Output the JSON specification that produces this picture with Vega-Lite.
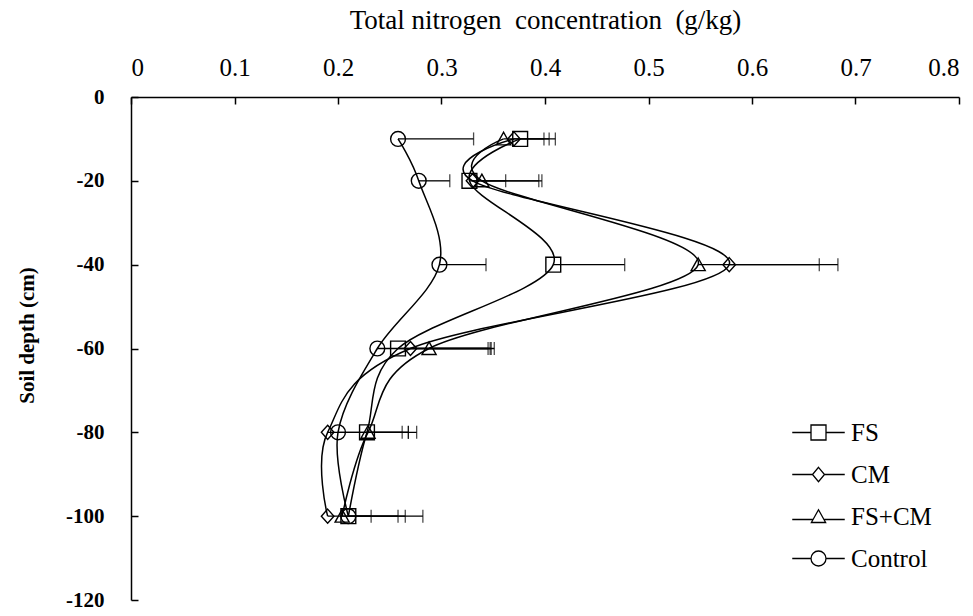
{
  "$schema": "https://vega.github.io/schema/vega-lite/v6.json",
  "width": 828,
  "height": 503,
  "autosize": "none",
  "padding": {"left": 131, "top": 97, "right": 14, "bottom": 16},
  "background": "white",
  "config": {
    "view": {"stroke": null},
    "font": "Liberation Serif",
    "axis": {
      "grid": false,
      "domainColor": "black",
      "domainWidth": 1.5,
      "tickColor": "black",
      "tickWidth": 1.5,
      "tickSize": -7,
      "labelFont": "Liberation Serif",
      "labelColor": "black",
      "titleFont": "Liberation Serif",
      "titleColor": "black"
    }
  },
  "data": {
    "values": [
      {"series": "FS", "depth": -10, "tn": 0.376, "err": 0.41},
      {"series": "FS", "depth": -20, "tn": 0.327, "err": 0.362},
      {"series": "FS", "depth": -40, "tn": 0.408, "err": 0.477},
      {"series": "FS", "depth": -60, "tn": 0.258, "err": 0.348},
      {"series": "FS", "depth": -80, "tn": 0.228, "err": 0.276},
      {"series": "FS", "depth": -100, "tn": 0.21, "err": 0.265},
      {"series": "CM", "depth": -10, "tn": 0.37, "err": 0.404},
      {"series": "CM", "depth": -20, "tn": 0.33, "err": 0.397},
      {"series": "CM", "depth": -40, "tn": 0.578, "err": 0.683},
      {"series": "CM", "depth": -60, "tn": 0.27, "err": 0.351},
      {"series": "CM", "depth": -80, "tn": 0.19, "err": 0.262},
      {"series": "CM", "depth": -100, "tn": 0.19, "err": 0.232},
      {"series": "FS+CM", "depth": -10, "tn": 0.36, "err": 0.399},
      {"series": "FS+CM", "depth": -20, "tn": 0.339, "err": 0.394},
      {"series": "FS+CM", "depth": -40, "tn": 0.548, "err": 0.665},
      {"series": "FS+CM", "depth": -60, "tn": 0.288, "err": 0.347},
      {"series": "FS+CM", "depth": -80, "tn": 0.229, "err": 0.268},
      {"series": "FS+CM", "depth": -100, "tn": 0.204, "err": 0.258},
      {"series": "Control", "depth": -10, "tn": 0.258, "err": 0.331},
      {"series": "Control", "depth": -20, "tn": 0.278, "err": 0.308},
      {"series": "Control", "depth": -40, "tn": 0.298, "err": 0.343},
      {"series": "Control", "depth": -60, "tn": 0.238, "err": 0.345},
      {"series": "Control", "depth": -80, "tn": 0.2, "err": 0.268},
      {"series": "Control", "depth": -100, "tn": 0.21, "err": 0.282}
    ]
  },
  "encoding": {
    "y": {
      "field": "depth",
      "type": "quantitative",
      "scale": {"domain": [-120, 0], "nice": false, "zero": false},
      "axis": {
        "values": [0, -20, -40, -60, -80, -100, -120],
        "labelExpr": "datum.value + ''",
        "title": "Soil depth (cm)",
        "titleFontSize": 21,
        "titleFontWeight": "bold",
        "titlePadding": 28,
        "titleY": 238,
        "labelFontSize": 21,
        "labelFontWeight": "bold",
        "labelPadding": 34
      }
    }
  },
  "resolve": {"scale": {"shape": "independent"}},
  "layer": [
    {
      "mark": {"type": "line", "interpolate": "cardinal", "color": "black", "strokeWidth": 1.5},
      "encoding": {
        "x": {
          "field": "tn",
          "type": "quantitative",
          "scale": {"domain": [0, 0.8], "nice": false},
          "axis": {
            "orient": "top",
            "values": [0, 0.1, 0.2, 0.3, 0.4, 0.5, 0.6, 0.7, 0.8],
            "format": "~g",
            "title": "Total nitrogen\u00a0 concentration\u00a0 (g/kg)",
            "titleFontSize": 27,
            "titleFontWeight": "normal",
            "titlePadding": 21,
            "labelFontSize": 25,
            "labelPadding": 24
          }
        },
        "detail": {"field": "series"},
        "order": {"field": "depth", "sort": "descending"}
      }
    },
    {
      "mark": {"type": "rule", "color": "black", "strokeWidth": 1.3},
      "encoding": {
        "x": {"field": "tn", "type": "quantitative"},
        "x2": {"field": "err"}
      }
    },
    {
      "mark": {"type": "tick", "orient": "vertical", "color": "black", "thickness": 1.3, "size": 13},
      "encoding": {
        "x": {"field": "err", "type": "quantitative"}
      }
    },
    {
      "mark": {"type": "point", "filled": false, "color": "black", "strokeWidth": 1.4, "opacity": 1},
      "encoding": {
        "x": {"field": "tn", "type": "quantitative"},
        "size": {"value": 220},
        "shape": {
          "field": "series",
          "type": "nominal",
          "scale": {
            "domain": ["FS", "CM", "FS+CM", "Control"],
            "range": ["square", "M0,-0.95L0.85,0L0,0.95L-0.85,0Z", "M0,-0.9L0.95,0.8L-0.95,0.8Z", "circle"]
          },
          "legend": null
        }
      }
    },
    {
      "transform": [{"filter": "datum.depth > 1000"}],
      "mark": {"type": "point", "filled": false, "color": "black", "strokeWidth": 1.3, "opacity": 1},
      "encoding": {
        "x": {"field": "tn", "type": "quantitative"},
        "shape": {
          "field": "series",
          "type": "nominal",
          "scale": {
            "domain": ["FS", "CM", "FS+CM", "Control"],
            "range": [
              "M-3.5,0H-1M1,0H3.5M-1,-1H1V1H-1Z",
              "M-3.5,0H-0.8M0.8,0H3.5M0,-0.95L0.8,0L0,0.95L-0.8,0Z",
              "M-3.5,0.4H-0.75M0.75,0.4H3.5M0,-0.9L0.95,0.8L-0.95,0.8Z",
              "M-3.5,0H-1M1,0H3.5M1,0A1,1,0,1,1,-1,0A1,1,0,1,1,1,0Z"
            ]
          },
          "legend": {
            "title": null,
            "orient": "none",
            "legendX": 675,
            "legendY": 323,
            "padding": 0,
            "labelFont": "Liberation Serif",
            "labelFontSize": 25,
            "labelColor": "black",
            "labelOffset": 20,
            "rowPadding": 16,
            "symbolSize": 225,
            "symbolFillColor": "transparent",
            "symbolStrokeColor": "black",
            "symbolStrokeWidth": 1.3
          }
        }
      }
    }
  ]
}
